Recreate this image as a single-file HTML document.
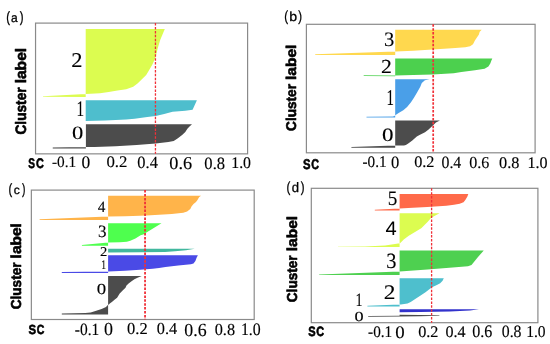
<!DOCTYPE html>
<html><head><meta charset="utf-8"><style>
html,body{margin:0;padding:0;background:#fff;}
body{width:550px;height:344px;overflow:hidden;font-family:"Liberation Sans",sans-serif;}
svg{display:block;}
</style></head><body>
<svg width="550" height="344" viewBox="0 0 550 344" text-rendering="geometricPrecision">
<rect width="550" height="344" fill="#fff"/>
<rect x="35.55" y="23.1" width="212.05" height="130.75" fill="none" stroke="#8a8a8a" stroke-width="1.2"/>
<rect x="306.4" y="24.3" width="228.70" height="128.50" fill="none" stroke="#8a8a8a" stroke-width="1.2"/>
<rect x="31.35" y="190.1" width="222.85" height="129.40" fill="none" stroke="#8a8a8a" stroke-width="1.2"/>
<rect x="311.3" y="188.3" width="226.60" height="134.40" fill="none" stroke="#8a8a8a" stroke-width="1.2"/>
<polygon points="85.7,28.9 164.8,28.9 160.2,40 157.6,48.7 155.5,57.5 152.4,64.4 148.9,70.5 146.2,74.9 141.9,79.3 137.5,83.6 133.2,86.8 126.2,89.2 117.5,90.6 108.7,92 100,93.2 85.7,93.9 43,96.2 43,96.8 85.7,96.9" fill="#dcfc50"/>
<polygon points="85.7,100.2 196.9,100.2 192.6,109.7 185.3,110.8 172.6,111.8 164.2,113.9 155.7,116 147.3,117.1 134.6,118.8 126.2,119.6 105.1,120.5 85.7,120.9" fill="#4ebecd"/>
<polygon points="85.9,124.3 192,124.3 189.5,126.6 187.4,128.7 185.3,131.9 182.1,135 177.9,138.2 173.7,140.9 168.4,142 155.7,143.5 136.7,144.9 115.6,146.2 94.5,147 85.9,147.1 52.75,147.6 52.75,148.6 85.9,148.6" fill="#4c4c4c"/>
<polygon points="395.2,29.8 481.7,29.8 479.7,31.8 478.8,34.7 476.9,37.6 474.9,40.5 473,44.3 470.1,46.2 465.3,47.2 451.8,48.2 432.5,49.5 413.3,50.7 395.2,51.6 315.2,54.3 315.2,54.9 395.2,55.1" fill="#ffd84e"/>
<polygon points="395.2,58.4 492.3,58.4 491.3,60.7 490.3,63.6 488.4,66.5 484.6,68.8 474.9,70.3 461.4,71.9 453.7,73.2 432.5,74.6 413.3,75.1 395.2,75.4 363.7,75.3 363.7,76.1 395.2,76.2" fill="#4cd04e"/>
<polygon points="395.2,79.2 429.6,79.2 424.9,80.3 421.8,83 420.3,86.8 417.2,92.2 414.1,97.6 411,102.3 407.1,106.9 403.3,110.3 398.6,113.1 396,114.8 395.2,115.6 393,116.4 366.5,116.7 366.5,117.6 395.2,117.6" fill="#4a9fe8"/>
<polygon points="395.2,120.5 439.9,120.5 435.9,122.6 432.3,125.9 428.6,129.5 425,132.3 419.5,135 416.8,136.5 412.3,140.5 408.6,143.2 405.9,145 404,145.4 395.2,145.4 351.4,147.0 351.4,147.7 395.2,147.7" fill="#4c4c4c"/>
<polygon points="108.1,195.7 201.1,195.7 199.2,197 197.3,200.2 196,202.1 193.5,204 191.5,206.5 190.3,209.1 187.1,211.4 183.3,212.7 171.8,213.9 159.1,214.8 146.4,215.5 140,215.8 125,216.3 108.1,216.6 39.6,219.3 39.6,220.0 108.1,220.1" fill="#ffb44a"/>
<polygon points="108.1,223.2 161.5,223.2 143.2,234.4 140.6,235.3 135.4,238.4 130.3,240.8 126.8,241.8 120,242.2 108.1,242.6 81.9,245.1 81.9,245.8 108.1,245.8" fill="#4eff4e"/>
<polygon points="108.1,248.8 194.7,248.8 186,250.2 175,251.3 165,252 140,252.3 108.1,252.5" fill="#42b89e"/>
<polygon points="108.1,255.2 197.9,255.2 196.6,257.7 195.4,260.9 193.5,263.5 190.9,264.3 178.2,265.6 165.5,266.9 159.1,267.9 152.7,268.7 140,269.8 125,270.8 108.1,271.6 61.8,271.9 61.8,272.9 108.1,273.0" fill="#4a4ae6"/>
<polygon points="108.1,276.1 141.7,276.1 137.5,277.8 134.4,279.3 131.2,281.4 128.6,283.5 126.5,285.6 125.5,287.7 122.9,290.3 119.7,293.5 117.1,297.7 114.5,299.8 111.9,301.9 109.8,303.4 108.6,304.7 108.1,304.7 106,306.9 101.6,309.1 96.2,310.7 90.7,312.4 85.3,313.0 61.8,313.5 61.8,314.5 108.1,314.5" fill="#4c4c4c"/>
<polygon points="399.6,194.1 468.3,194.1 467.4,196.6 465.5,199.8 463.5,202.3 459.7,203.7 454,204.8 446.4,205.8 427.3,207.1 408.2,208 399.6,208.6 374.8,209.7 374.8,210.4 399.6,210.5" fill="#ff6a4a"/>
<polygon points="399.6,213.3 439.5,213.3 431.25,217.75 427.5,222 425,224.5 421.25,228.25 415,232 408.75,235.75 403.75,239.5 400,243.25 399.6,243.25 395,244 385,245.4 365,246.4 338,246.7 338,247.1 399.6,247.1" fill="#dcfc50"/>
<polygon points="399.6,250.5 483.75,250.5 478,257 471.5,265 468,266.3 452.5,267.5 427.5,269.5 399.6,271.4 319.1,274.4 319.1,275.1 399.6,275.1" fill="#4ed050"/>
<polygon points="399.6,278.3 443.8,278.3 442.6,280.7 440.2,283.2 436.9,285.1 432,287.3 428.7,289.7 425.5,292.2 420.6,295.5 415.6,298.7 410.7,302 407.5,303.6 400.9,304.6 399.6,304.6 367.4,305.7 367.4,306.5 399.6,306.6" fill="#4ebfcd"/>
<polygon points="399.6,309.3 479,309.3 470,310.6 450,311.6 420,312.1 399.6,312.2" fill="#3232cc"/>
<polygon points="399.6,314.8 439.4,315.2 439.4,315.8 420,316.3 399.6,316.6 368.2,316.7 368.2,316.0 399.6,315.8" fill="#4a4a4a"/>
<line x1="155.45" y1="23.1" x2="155.45" y2="153.85" stroke="#f03038" stroke-width="1.3" stroke-dasharray="2.5 1.4"/>
<line x1="433.2" y1="24.3" x2="433.2" y2="152.8" stroke="#f03038" stroke-width="1.7" stroke-dasharray="2.5 1.4"/>
<line x1="145.05" y1="190.1" x2="145.05" y2="319.5" stroke="#f03038" stroke-width="1.8" stroke-dasharray="2.5 1.4"/>
<line x1="431.6" y1="188.3" x2="431.6" y2="322.7" stroke="#f03038" stroke-width="1.3" stroke-dasharray="2.5 1.4"/>
<g style="will-change:transform">
<text transform="translate(6.22 22.00) scale(0.7631 1)" font-family="Liberation Sans" font-weight="normal" font-size="14.91" fill="#000" stroke="#000" stroke-width="0.3" stroke-linejoin="round">(</text>
<text transform="translate(19.85 22.00) scale(0.7631 1)" font-family="Liberation Sans" font-weight="normal" font-size="14.91" fill="#000" stroke="#000" stroke-width="0.3" stroke-linejoin="round">)</text>
<text transform="translate(11.07 22.00) scale(0.9618 1)" font-family="Liberation Sans" font-weight="normal" font-size="12.53" fill="#000" stroke="#000" stroke-width="0.3" stroke-linejoin="round">a</text>
<text transform="translate(284.22 21.00) scale(0.7846 1)" font-family="Liberation Sans" font-weight="normal" font-size="14.50" fill="#000" stroke="#000" stroke-width="0.3" stroke-linejoin="round">(</text>
<text transform="translate(298.15 21.00) scale(0.7846 1)" font-family="Liberation Sans" font-weight="normal" font-size="14.50" fill="#000" stroke="#000" stroke-width="0.3" stroke-linejoin="round">)</text>
<text transform="translate(289.17 21.00) scale(1.0638 1)" font-family="Liberation Sans" font-weight="normal" font-size="13.28" fill="#000" stroke="#000" stroke-width="0.3" stroke-linejoin="round">b</text>
<text transform="translate(8.62 194.00) scale(0.7511 1)" font-family="Liberation Sans" font-weight="normal" font-size="14.91" fill="#000" stroke="#000" stroke-width="0.3" stroke-linejoin="round">(</text>
<text transform="translate(22.05 194.00) scale(0.6915 1)" font-family="Liberation Sans" font-weight="normal" font-size="14.91" fill="#000" stroke="#000" stroke-width="0.3" stroke-linejoin="round">)</text>
<text transform="translate(13.77 194.00) scale(1.0134 1)" font-family="Liberation Sans" font-weight="normal" font-size="11.98" fill="#000" stroke="#000" stroke-width="0.3" stroke-linejoin="round">c</text>
<text transform="translate(286.52 192.00) scale(0.7846 1)" font-family="Liberation Sans" font-weight="normal" font-size="14.50" fill="#000" stroke="#000" stroke-width="0.3" stroke-linejoin="round">(</text>
<text transform="translate(300.75 192.00) scale(0.7846 1)" font-family="Liberation Sans" font-weight="normal" font-size="14.50" fill="#000" stroke="#000" stroke-width="0.3" stroke-linejoin="round">)</text>
<text transform="translate(291.84 192.00) scale(0.9587 1)" font-family="Liberation Sans" font-weight="normal" font-size="13.69" fill="#000" stroke="#000" stroke-width="0.3" stroke-linejoin="round">d</text>
<text transform="translate(28.34 168.00) scale(0.7307 1)" font-family="Liberation Sans" font-weight="bold" font-size="13.80" fill="#000" stroke="#000" stroke-width="0.6" stroke-linejoin="round">S</text>
<text transform="translate(36.06 168.00) scale(0.7876 1)" font-family="Liberation Sans" font-weight="bold" font-size="13.80" fill="#000" stroke="#000" stroke-width="0.6" stroke-linejoin="round">C</text>
<text transform="translate(303.12 169.00) scale(0.7955 1)" font-family="Liberation Sans" font-weight="bold" font-size="14.08" fill="#000" stroke="#000" stroke-width="0.6" stroke-linejoin="round">S</text>
<text transform="translate(311.27 169.00) scale(0.7611 1)" font-family="Liberation Sans" font-weight="bold" font-size="14.08" fill="#000" stroke="#000" stroke-width="0.6" stroke-linejoin="round">C</text>
<text transform="translate(28.62 334.00) scale(0.8589 1)" font-family="Liberation Sans" font-weight="bold" font-size="13.23" fill="#000" stroke="#000" stroke-width="0.6" stroke-linejoin="round">S</text>
<text transform="translate(36.87 334.00) scale(0.7989 1)" font-family="Liberation Sans" font-weight="bold" font-size="13.23" fill="#000" stroke="#000" stroke-width="0.6" stroke-linejoin="round">C</text>
<text transform="translate(308.23 336.00) scale(0.8171 1)" font-family="Liberation Sans" font-weight="bold" font-size="13.51" fill="#000" stroke="#000" stroke-width="0.6" stroke-linejoin="round">S</text>
<text transform="translate(316.26 336.00) scale(0.8042 1)" font-family="Liberation Sans" font-weight="bold" font-size="13.51" fill="#000" stroke="#000" stroke-width="0.6" stroke-linejoin="round">C</text>
<text transform="translate(26.00 83.36) rotate(-90) scale(1.0301 1)" font-family="Liberation Sans" font-weight="bold" font-size="15.11" fill="#000" stroke="#000" stroke-width="0.6" stroke-linejoin="round">label</text>
<text transform="translate(26.00 134.53) rotate(-90) scale(0.9043 1)" font-family="Liberation Sans" font-weight="bold" font-size="15.11" fill="#000" stroke="#000" stroke-width="0.6" stroke-linejoin="round">Cluster</text>
<text transform="translate(296.00 80.00) rotate(-90) scale(1.0942 1)" font-family="Liberation Sans" font-weight="bold" font-size="14.16" fill="#000" stroke="#000" stroke-width="0.6" stroke-linejoin="round">label</text>
<text transform="translate(296.00 130.93) rotate(-90) scale(0.9607 1)" font-family="Liberation Sans" font-weight="bold" font-size="14.16" fill="#000" stroke="#000" stroke-width="0.6" stroke-linejoin="round">Cluster</text>
<text transform="translate(21.00 258.40) rotate(-90) scale(1.0736 1)" font-family="Liberation Sans" font-weight="bold" font-size="14.43" fill="#000" stroke="#000" stroke-width="0.6" stroke-linejoin="round">label</text>
<text transform="translate(21.00 309.33) rotate(-90) scale(0.9425 1)" font-family="Liberation Sans" font-weight="bold" font-size="14.43" fill="#000" stroke="#000" stroke-width="0.6" stroke-linejoin="round">Cluster</text>
<text transform="translate(297.00 251.24) rotate(-90) scale(1.0749 1)" font-family="Liberation Sans" font-weight="bold" font-size="14.43" fill="#000" stroke="#000" stroke-width="0.6" stroke-linejoin="round">label</text>
<text transform="translate(297.00 302.23) rotate(-90) scale(0.9436 1)" font-family="Liberation Sans" font-weight="bold" font-size="14.43" fill="#000" stroke="#000" stroke-width="0.6" stroke-linejoin="round">Cluster</text>
<text transform="translate(71.16 67.00) scale(1.0677 1)" font-family="Liberation Serif" font-weight="normal" font-size="21.05" fill="#000" stroke="#000" stroke-width="0.12" stroke-linejoin="round">2</text>
<text transform="translate(76.38 116.00) scale(0.6766 1)" font-family="Liberation Serif" font-weight="normal" font-size="22.39" fill="#000" stroke="#000" stroke-width="0.12" stroke-linejoin="round">1</text>
<text transform="translate(72.10 139.00) scale(1.1957 1)" font-family="Liberation Serif" font-weight="normal" font-size="18.89" fill="#000" stroke="#000" stroke-width="0.12" stroke-linejoin="round">0</text>
<text transform="translate(384.10 46.00) scale(1.0061 1)" font-family="Liberation Serif" font-weight="normal" font-size="20.45" fill="#000" stroke="#000" stroke-width="0.12" stroke-linejoin="round">3</text>
<text transform="translate(381.08 73.00) scale(1.0960 1)" font-family="Liberation Serif" font-weight="normal" font-size="19.85" fill="#000" stroke="#000" stroke-width="0.12" stroke-linejoin="round">2</text>
<text transform="translate(386.40 105.00) scale(0.6517 1)" font-family="Liberation Serif" font-weight="normal" font-size="22.83" fill="#000" stroke="#000" stroke-width="0.12" stroke-linejoin="round">1</text>
<text transform="translate(382.04 141.00) scale(1.2151 1)" font-family="Liberation Serif" font-weight="normal" font-size="18.96" fill="#000" stroke="#000" stroke-width="0.12" stroke-linejoin="round">0</text>
<text transform="translate(97.82 212.00) scale(0.9764 1)" font-family="Liberation Serif" font-weight="normal" font-size="15.69" fill="#000" stroke="#000" stroke-width="0.12" stroke-linejoin="round">4</text>
<text transform="translate(98.06 237.00) scale(0.9824 1)" font-family="Liberation Serif" font-weight="normal" font-size="17.32" fill="#000" stroke="#000" stroke-width="0.12" stroke-linejoin="round">3</text>
<text transform="translate(100.00 256.00) scale(1.0887 1)" font-family="Liberation Serif" font-weight="normal" font-size="13.45" fill="#000" stroke="#000" stroke-width="0.12" stroke-linejoin="round">2</text>
<text transform="translate(101.21 269.00) scale(0.7339 1)" font-family="Liberation Serif" font-weight="normal" font-size="13.01" fill="#000" stroke="#000" stroke-width="0.12" stroke-linejoin="round">1</text>
<text transform="translate(96.82 294.00) scale(1.2223 1)" font-family="Liberation Serif" font-weight="normal" font-size="15.39" fill="#000" stroke="#000" stroke-width="0.12" stroke-linejoin="round">0</text>
<text transform="translate(387.66 205.00) scale(0.9283 1)" font-family="Liberation Serif" font-weight="normal" font-size="20.63" fill="#000" stroke="#000" stroke-width="0.12" stroke-linejoin="round">5</text>
<text transform="translate(386.21 268.00) scale(0.9334 1)" font-family="Liberation Serif" font-weight="normal" font-size="21.79" fill="#000" stroke="#000" stroke-width="0.12" stroke-linejoin="round">3</text>
<text transform="translate(383.73 299.00) scale(1.1369 1)" font-family="Liberation Serif" font-weight="normal" font-size="20.60" fill="#000" stroke="#000" stroke-width="0.12" stroke-linejoin="round">2</text>
<text transform="translate(355.46 306.00) scale(0.7455 1)" font-family="Liberation Serif" font-weight="normal" font-size="18.89" fill="#000" stroke="#000" stroke-width="0.12" stroke-linejoin="round">1</text>
<text transform="translate(354.49 321.00) scale(1.3335 1)" font-family="Liberation Serif" font-weight="normal" font-size="13.68" fill="#000" stroke="#000" stroke-width="0.12" stroke-linejoin="round">0</text>
<text transform="translate(385.38 235.00) scale(1.0277 1)" font-family="Liberation Sans" font-weight="normal" font-size="19.63" fill="#000">4</text>
<text transform="translate(52.00 167.00) scale(0.9778 1)" font-family="Liberation Serif" font-weight="normal" font-size="15.67" fill="#000" stroke="#000" stroke-width="0.15" stroke-linejoin="round">-0.1</text>
<text transform="translate(81.53 168.00) scale(0.9935 1)" font-family="Liberation Serif" font-weight="normal" font-size="17.60" fill="#000" stroke="#000" stroke-width="0.15" stroke-linejoin="round">0</text>
<text transform="translate(106.45 167.00) scale(1.0407 1)" font-family="Liberation Serif" font-weight="normal" font-size="16.11" fill="#000" stroke="#000" stroke-width="0.15" stroke-linejoin="round">0.2</text>
<text transform="translate(137.36 168.00) scale(0.9570 1)" font-family="Liberation Serif" font-weight="normal" font-size="17.15" fill="#000" stroke="#000" stroke-width="0.15" stroke-linejoin="round">0.4</text>
<text transform="translate(169.30 169.00) scale(1.0027 1)" font-family="Liberation Serif" font-weight="normal" font-size="18.20" fill="#000" stroke="#000" stroke-width="0.15" stroke-linejoin="round">0.6</text>
<text transform="translate(204.36 169.00) scale(0.9647 1)" font-family="Liberation Serif" font-weight="normal" font-size="17.15" fill="#000" stroke="#000" stroke-width="0.15" stroke-linejoin="round">0.8</text>
<text transform="translate(231.24 168.00) scale(0.9732 1)" font-family="Liberation Serif" font-weight="normal" font-size="16.26" fill="#000" stroke="#000" stroke-width="0.15" stroke-linejoin="round">1.0</text>
<text transform="translate(362.50 167.00) scale(0.9424 1)" font-family="Liberation Serif" font-weight="normal" font-size="16.11" fill="#000" stroke="#000" stroke-width="0.15" stroke-linejoin="round">-0.1</text>
<text transform="translate(391.06 168.00) scale(0.9661 1)" font-family="Liberation Serif" font-weight="normal" font-size="17.15" fill="#000" stroke="#000" stroke-width="0.15" stroke-linejoin="round">0</text>
<text transform="translate(414.17 167.00) scale(1.0090 1)" font-family="Liberation Serif" font-weight="normal" font-size="16.11" fill="#000" stroke="#000" stroke-width="0.15" stroke-linejoin="round">0.2</text>
<text transform="translate(441.48 168.00) scale(0.9231 1)" font-family="Liberation Serif" font-weight="normal" font-size="17.15" fill="#000" stroke="#000" stroke-width="0.15" stroke-linejoin="round">0.4</text>
<text transform="translate(469.17 168.00) scale(0.9627 1)" font-family="Liberation Serif" font-weight="normal" font-size="16.71" fill="#000" stroke="#000" stroke-width="0.15" stroke-linejoin="round">0.6</text>
<text transform="translate(499.07 168.00) scale(1.0021 1)" font-family="Liberation Serif" font-weight="normal" font-size="16.26" fill="#000" stroke="#000" stroke-width="0.15" stroke-linejoin="round">0.8</text>
<text transform="translate(527.42 168.00) scale(0.9894 1)" font-family="Liberation Serif" font-weight="normal" font-size="16.26" fill="#000" stroke="#000" stroke-width="0.15" stroke-linejoin="round">1.0</text>
<text transform="translate(74.79 335.00) scale(0.9007 1)" font-family="Liberation Serif" font-weight="normal" font-size="17.15" fill="#000" stroke="#000" stroke-width="0.15" stroke-linejoin="round">-0.1</text>
<text transform="translate(104.01 335.00) scale(0.9781 1)" font-family="Liberation Serif" font-weight="normal" font-size="18.34" fill="#000" stroke="#000" stroke-width="0.15" stroke-linejoin="round">0</text>
<text transform="translate(127.06 334.00) scale(0.9883 1)" font-family="Liberation Serif" font-weight="normal" font-size="16.71" fill="#000" stroke="#000" stroke-width="0.15" stroke-linejoin="round">0.2</text>
<text transform="translate(156.76 334.00) scale(0.9776 1)" font-family="Liberation Serif" font-weight="normal" font-size="16.71" fill="#000" stroke="#000" stroke-width="0.15" stroke-linejoin="round">0.4</text>
<text transform="translate(184.32 336.00) scale(0.9641 1)" font-family="Liberation Serif" font-weight="normal" font-size="18.49" fill="#000" stroke="#000" stroke-width="0.15" stroke-linejoin="round">0.6</text>
<text transform="translate(214.67 335.00) scale(0.9753 1)" font-family="Liberation Serif" font-weight="normal" font-size="16.71" fill="#000" stroke="#000" stroke-width="0.15" stroke-linejoin="round">0.8</text>
<text transform="translate(240.94 335.00) scale(0.8916 1)" font-family="Liberation Serif" font-weight="normal" font-size="17.75" fill="#000" stroke="#000" stroke-width="0.15" stroke-linejoin="round">1.0</text>
<text transform="translate(368.10 337.00) scale(0.9465 1)" font-family="Liberation Serif" font-weight="normal" font-size="16.11" fill="#000" stroke="#000" stroke-width="0.15" stroke-linejoin="round">-0.1</text>
<text transform="translate(395.29 338.00) scale(1.0714 1)" font-family="Liberation Serif" font-weight="normal" font-size="17.60" fill="#000" stroke="#000" stroke-width="0.15" stroke-linejoin="round">0</text>
<text transform="translate(418.17 337.00) scale(1.0090 1)" font-family="Liberation Serif" font-weight="normal" font-size="16.11" fill="#000" stroke="#000" stroke-width="0.15" stroke-linejoin="round">0.2</text>
<text transform="translate(445.47 337.00) scale(0.9982 1)" font-family="Liberation Serif" font-weight="normal" font-size="16.11" fill="#000" stroke="#000" stroke-width="0.15" stroke-linejoin="round">0.4</text>
<text transform="translate(472.17 337.00) scale(0.9138 1)" font-family="Liberation Serif" font-weight="normal" font-size="17.60" fill="#000" stroke="#000" stroke-width="0.15" stroke-linejoin="round">0.6</text>
<text transform="translate(501.78 337.00) scale(0.9205 1)" font-family="Liberation Serif" font-weight="normal" font-size="17.15" fill="#000" stroke="#000" stroke-width="0.15" stroke-linejoin="round">0.8</text>
<text transform="translate(526.16 337.00) scale(0.9398 1)" font-family="Liberation Serif" font-weight="normal" font-size="16.56" fill="#000" stroke="#000" stroke-width="0.15" stroke-linejoin="round">1.0</text>
</g>
</svg>
</body></html>
